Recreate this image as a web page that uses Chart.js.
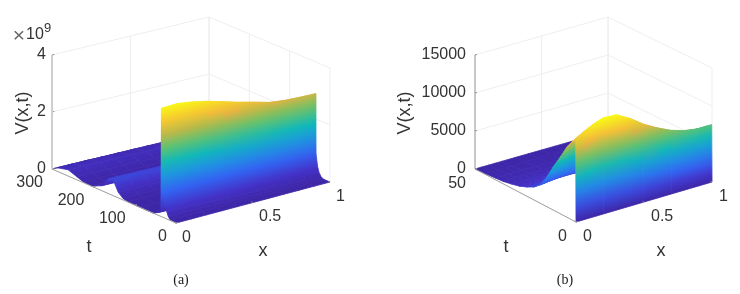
<!DOCTYPE html>
<html>
<head>
<meta charset="utf-8">
<style>
    html, body { margin: 0; padding: 0; background: #fff; }
    #surfaceChart { position: absolute; left: 0; top: 0; }
</style>
<script src="https://cdn.jsdelivr.net/npm/chart.js@4/dist/chart.umd.js"></script>
</head>
<body>
<canvas id="surfaceChart" width="740" height="294"></canvas>
<script>
// panel (a), V in units of 1e9
var aX = [0, 0.1, 0.2, 0.3, 0.4, 0.5, 0.6, 0.7, 0.8, 0.9, 1];
var aT = [0, 14.5, 19, 22.5, 27.3, 31, 34.6, 35.2, 36.5, 44, 55, 87, 116, 128, 140, 152, 164, 180, 204, 225, 240, 261, 288, 300];
var aV = [
    [0, 0, 0, 0, 0, 0, 0, 0, 0, 0, 0],
    [0.02, 0.02, 0.02, 0.02, 0.01, 0.01, 0.01, 0.01, 0.01, 0, 0],
    [0.12, 0.11, 0.10, 0.09, 0.08, 0.07, 0.06, 0.05, 0.04, 0.03, 0.02],
    [0.26, 0.24, 0.22, 0.20, 0.18, 0.16, 0.14, 0.12, 0.10, 0.08, 0.06],
    [0.53, 0.49, 0.45, 0.41, 0.38, 0.34, 0.30, 0.27, 0.24, 0.21, 0.18],
    [0.72, 0.68, 0.64, 0.60, 0.56, 0.52, 0.48, 0.45, 0.42, 0.40, 0.38],
    [0.95, 0.94, 0.92, 0.90, 0.88, 0.86, 0.85, 0.84, 0.82, 0.81, 0.80],
    [3.80, 3.82, 3.74, 3.62, 3.46, 3.30, 3.16, 3.01, 2.94, 2.91, 2.89],
    [0.16, 0.16, 0.15, 0.15, 0.14, 0.14, 0.13, 0.13, 0.12, 0.12, 0.12],
    [0.09, 0.09, 0.08, 0.08, 0.08, 0.07, 0.07, 0.07, 0.06, 0.06, 0.06],
    [0, 0, 0, 0, 0, 0, 0, 0, 0, 0, 0],
    [0, 0, 0, 0, 0, 0, 0, 0, 0, 0, 0],
    [0.01, 0.01, 0.01, 0.01, 0.01, 0.01, 0.01, 0.01, 0.01, 0.01, 0.01],
    [0.05, 0.05, 0.05, 0.05, 0.05, 0.04, 0.04, 0.04, 0.04, 0.04, 0.04],
    [0.20, 0.20, 0.19, 0.19, 0.18, 0.18, 0.17, 0.17, 0.16, 0.16, 0.16],
    [0.55, 0.55, 0.54, 0.53, 0.52, 0.50, 0.49, 0.47, 0.46, 0.45, 0.45],
    [0.51, 0.51, 0.50, 0.49, 0.48, 0.47, 0.45, 0.44, 0.43, 0.42, 0.42],
    [0.17, 0.17, 0.17, 0.16, 0.16, 0.15, 0.15, 0.14, 0.14, 0.14, 0.14],
    [0.01, 0.01, 0.01, 0.01, 0.01, 0.01, 0.01, 0.01, 0.01, 0.01, 0.01],
    [0.03, 0.03, 0.03, 0.03, 0.03, 0.03, 0.03, 0.02, 0.02, 0.02, 0.02],
    [0.11, 0.11, 0.11, 0.10, 0.10, 0.10, 0.09, 0.09, 0.09, 0.08, 0.08],
    [0.22, 0.22, 0.21, 0.21, 0.20, 0.20, 0.19, 0.18, 0.18, 0.17, 0.17],
    [0.12, 0.12, 0.12, 0.11, 0.11, 0.11, 0.10, 0.10, 0.10, 0.09, 0.09],
    [0, 0, 0, 0, 0, 0, 0, 0, 0, 0, 0]
];
var aXTicks = [0, 0.5, 1];
var aTTicks = [0, 100, 200, 300];
var aVTicks = [0, 2, 4];
var aVTickLabels = ['0', '2', '4'];

// panel (b)
var bX = [0, 0.05, 0.1, 0.15, 0.2, 0.3, 0.4, 0.5, 0.6, 0.7, 0.8, 0.9, 1];
var bT = [0, 0.15, 2, 4.5, 8, 11.4, 14.5, 17.8, 21, 24.5, 28, 32, 36, 40, 45, 50];
var bV = [
    [0, 0, 0, 0, 0, 0, 0, 0, 0, 0, 0, 0, 0],
    [10800, 11350, 11850, 12300, 12600, 12500, 11500, 10200, 9200, 8350, 7800, 7500, 7500],
    [10260, 10780, 11260, 11690, 11970, 11880, 10930, 9690, 8740, 7930, 7410, 7130, 7130],
    [9250, 9730, 10160, 10540, 10800, 10710, 9860, 8740, 7880, 7160, 6680, 6430, 6430],
    [7340, 7720, 8060, 8360, 8570, 8500, 7820, 6940, 6260, 5680, 5300, 5100, 5100],
    [5620, 5900, 6160, 6400, 6550, 6500, 5980, 5300, 4780, 4340, 4060, 3900, 3900],
    [3890, 4090, 4270, 4430, 4540, 4500, 4140, 3670, 3310, 3010, 2810, 2700, 2700],
    [2380, 2500, 2610, 2710, 2770, 2750, 2530, 2240, 2020, 1840, 1720, 1650, 1650],
    [1670, 1760, 1840, 1910, 1950, 1940, 1780, 1580, 1430, 1290, 1210, 1160, 1160],
    [1190, 1250, 1300, 1350, 1390, 1380, 1270, 1120, 1010, 920, 860, 830, 830],
    [810, 850, 890, 920, 950, 940, 860, 770, 690, 630, 590, 560, 560],
    [540, 570, 590, 610, 630, 630, 580, 510, 460, 420, 390, 380, 380],
    [320, 340, 360, 370, 380, 380, 350, 310, 280, 250, 230, 230, 230],
    [220, 230, 240, 250, 250, 250, 230, 200, 180, 170, 160, 150, 150],
    [90, 90, 100, 100, 100, 100, 90, 80, 70, 70, 60, 60, 60],
    [0, 0, 0, 0, 0, 0, 0, 0, 0, 0, 0, 0, 0]
];
var bXTicks = [0, 0.5, 1];
var bTTicks = [0, 50];
var bVTicks = [0, 5000, 10000, 15000];
var bVTickLabels = ['0', '5000', '10000', '15000'];

var AXIS_FONT = '"Liberation Sans", Arial, sans-serif';
var TEXT_COLOR = '#333333';
var GRID_COLOR = '#eeeeee';

// screen corners of the floor of each 3D box, and height of its V axis
var panelA = {
    front: [176, 223], right: [330, 182], left: [52, 169], back: [209, 131],
    xMax: 1, tMax: 300, vMax: 4, vHeight: 114, colorMax: 3.87, vTickGap: 6
};
var panelB = {
    front: [576, 222], right: [712, 182], left: [475, 169], back: [608, 131],
    xMax: 1, tMax: 50, vMax: 15000, vHeight: 114, colorMax: 12600, vTickGap: 9
};

// colour map sampled from the wall of panel (a)
var parulaStops = [
    [0, 62, 38, 168], [0.085, 68, 50, 200], [0.22, 50, 100, 242], [0.35, 32, 146, 226], [0.48, 16, 184, 186],
    [0.62, 96, 194, 112], [0.725, 176, 186, 74], [0.79, 240, 178, 64], [0.9, 248, 214, 40], [1, 249, 251, 21]
];

function parula(f) {
    f = Math.max(0, Math.min(1, f));
    for (var i = 1; i < parulaStops.length; i++) {
        var a = parulaStops[i - 1];
        var b = parulaStops[i];
        if (f <= b[0]) {
            var k = (f - a[0]) / (b[0] - a[0]);
            return 'rgb(' + Math.round(a[1] + k * (b[1] - a[1])) + ',' +
                Math.round(a[2] + k * (b[2] - a[2])) + ',' +
                Math.round(a[3] + k * (b[3] - a[3])) + ')';
        }
    }
    return 'rgb(249,251,21)';
}

function project(p, x, t, v) {
    var u = x / p.xMax;
    var w = t / p.tMax;
    var sx = (1 - u) * (1 - w) * p.front[0] + u * (1 - w) * p.right[0] + (1 - u) * w * p.left[0] + u * w * p.back[0];
    var sy = (1 - u) * (1 - w) * p.front[1] + u * (1 - w) * p.right[1] + (1 - u) * w * p.left[1] + u * w * p.back[1];
    return { x: sx, y: sy - (v / p.vMax) * p.vHeight };
}

var canvas = document.getElementById('surfaceChart');
var ctx = canvas.getContext('2d');

// interpolated shading of one surface cell, as a gradient along the V direction on screen
function cellPaint(p, c00, c10, c01, c11, v00, v10, v01, v11) {
    var vLow = Math.min(v00, v10, v01, v11);
    var vHigh = Math.max(v00, v10, v01, v11);
    var vMid = (v00 + v10 + v01 + v11) / 4;
    var e1x = (c10.x - c00.x + c11.x - c01.x) / 2;
    var e1y = (c10.y - c00.y + c11.y - c01.y) / 2;
    var e2x = (c01.x - c00.x + c11.x - c10.x) / 2;
    var e2y = (c01.y - c00.y + c11.y - c10.y) / 2;
    var d1 = (v10 - v00 + v11 - v01) / 2;
    var d2 = (v01 - v00 + v11 - v10) / 2;
    var det = e1x * e2y - e1y * e2x;
    if (vHigh - vLow < 1e-9 || Math.abs(det) < 1) {
        return parula(vMid / p.colorMax);
    }
    var gx = (d1 * e2y - d2 * e1y) / det;
    var gy = (e1x * d2 - e2x * d1) / det;
    var g2 = gx * gx + gy * gy;
    var cx = (c00.x + c10.x + c01.x + c11.x) / 4;
    var cy = (c00.y + c10.y + c01.y + c11.y) / 4;
    var grad = ctx.createLinearGradient(
        cx + gx * (vLow - vMid) / g2, cy + gy * (vLow - vMid) / g2,
        cx + gx * (vHigh - vMid) / g2, cy + gy * (vHigh - vMid) / g2
    );
    for (var s = 0; s <= 6; s++) {
        grad.addColorStop(s / 6, parula((vLow + (vHigh - vLow) * s / 6) / p.colorMax));
    }
    return grad;
}

function surfaceDatasets(p, xs, ts, vs) {
    var out = [];
    // first dataset is painted last, so the front rows go first
    for (var i = 0; i < ts.length - 1; i++) {
        for (var j = 0; j < xs.length - 1; j++) {
            var c00 = project(p, xs[j], ts[i], vs[i][j]);
            var c10 = project(p, xs[j + 1], ts[i], vs[i][j + 1]);
            var c11 = project(p, xs[j + 1], ts[i + 1], vs[i + 1][j + 1]);
            var c01 = project(p, xs[j], ts[i + 1], vs[i + 1][j]);
            var paint = cellPaint(p, c00, c10, c01, c11, vs[i][j], vs[i][j + 1], vs[i + 1][j], vs[i + 1][j + 1]);
            out.push({
                data: [c00, c10, c11, c01, c00],
                showLine: true,
                fill: 'shape',
                backgroundColor: paint,
                borderColor: paint,
                borderWidth: 0.8,
                borderJoinStyle: 'round',
                pointRadius: 0,
                tension: 0,
                clip: false
            });
        }
    }
    return out;
}

function lineDataset(points, color, width) {
    return {
        data: points,
        showLine: true,
        fill: false,
        borderColor: color,
        borderWidth: width,
        pointRadius: 0,
        tension: 0,
        clip: false
    };
}

function gridDatasets(p, xTicks, tTicks, vTicks) {
    var out = [];
    xTicks.forEach(function (x) {
        out.push(lineDataset([project(p, x, 0, 0), project(p, x, p.tMax, 0), project(p, x, p.tMax, p.vMax)], GRID_COLOR, 1));
    });
    tTicks.forEach(function (t) {
        out.push(lineDataset([project(p, 0, t, 0), project(p, p.xMax, t, 0), project(p, p.xMax, t, p.vMax)], GRID_COLOR, 1));
    });
    vTicks.forEach(function (v) {
        out.push(lineDataset([project(p, 0, p.tMax, v), project(p, p.xMax, p.tMax, v), project(p, p.xMax, 0, v)], GRID_COLOR, 1));
    });
    return out;
}

function axisDatasets(p, xTicks, tTicks, vTicks, vAxisColor, vAxisWidth) {
    var out = [];
    var tickColor = '#8c8c8c';
    out.push(lineDataset([project(p, 0, 0, 0), project(p, 0, p.tMax, 0)], '#a0a0a0', 1));
    out.push(lineDataset([project(p, 0, p.tMax, 0), project(p, 0, p.tMax, p.vMax)], vAxisColor, vAxisWidth));
    tTicks.forEach(function (t) {
        out.push(lineDataset([project(p, 0, t, 0), project(p, 0.015, t, 0)], tickColor, 1));
    });
    vTicks.forEach(function (v) {
        out.push(lineDataset([project(p, 0, p.tMax, v), project(p, 0.015, p.tMax, v)], tickColor, 1));
    });
    xTicks.forEach(function (x) {
        out.push(lineDataset([project(p, x, 0, 0), project(p, x, p.tMax * 0.015, 0)], tickColor, 1));
    });
    return out;
}

function tickTexts(p, xTicks, tTicks, vTicks, vLabels, xOff, tOff) {
    var out = [];
    vTicks.forEach(function (v, i) {
        var q = project(p, 0, p.tMax, v);
        out.push({ text: vLabels[i], x: q.x - p.vTickGap, y: q.y, align: 'right', size: 16 });
    });
    tTicks.forEach(function (t) {
        var q = project(p, 0, t, 0);
        out.push({ text: String(t), x: q.x + tOff[0], y: q.y + tOff[1], align: 'right', size: 16 });
    });
    xTicks.forEach(function (x) {
        var q = project(p, x, 0, 0);
        out.push({ text: String(x), x: q.x + xOff[0], y: q.y + xOff[1], align: 'left', size: 16 });
    });
    return out;
}

var labels = []
    .concat(tickTexts(panelA, aXTicks, aTTicks, aVTicks, aVTickLabels, [6, 14.5], [-9, 14]))
    .concat(tickTexts(panelB, bXTicks, bTTicks, bVTicks, bVTickLabels, [7, 15], [-9, 14.5]))
    .concat([
        { text: 'V(x,t)', x: 23, y: 113, align: 'center', size: 18, rotate: true },
        { text: 't', x: 89, y: 247, align: 'center', size: 18 },
        { text: 'x', x: 263, y: 251, align: 'center', size: 18 },
        { text: '\u00d7', x: 19, y: 36, align: 'center', size: 21, light: true },
        { text: '10', x: 26, y: 35, align: 'left', size: 16 },
        { text: '9', x: 44, y: 28, align: 'left', size: 13 },
        { text: '(a)', x: 181, y: 280, align: 'center', size: 14, serif: true },
        { text: 'V(x,t)', x: 405, y: 113, align: 'center', size: 18, rotate: true },
        { text: 't', x: 506, y: 247, align: 'center', size: 18 },
        { text: 'x', x: 661, y: 251, align: 'center', size: 18 },
        { text: '(b)', x: 565, y: 280, align: 'center', size: 14, serif: true }
    ]);

var textPlugin = {
    id: 'panelText',
    afterDraw: function (chart) {
        var c = chart.ctx;
        labels.forEach(function (l) {
            c.save();
            c.fillStyle = l.serif ? '#1a1a1a' : (l.light ? '#666666' : TEXT_COLOR);
            c.font = l.size + 'px ' + (l.serif ? '"Liberation Serif", serif' : AXIS_FONT);
            c.textAlign = l.align;
            c.textBaseline = 'middle';
            c.translate(l.x, l.y);
            if (l.rotate) c.rotate(-Math.PI / 2);
            c.fillText(l.text, 0, 0);
            c.restore();
        });
    }
};

// dataset 0 is on top: axes, then surfaces, then the box grid at the back
var datasets = []
    .concat(axisDatasets(panelA, aXTicks, aTTicks, aVTicks, '#cfcfcf', 2))
    .concat(axisDatasets(panelB, bXTicks, bTTicks, bVTicks, '#9a9a9a', 1))
    .concat(surfaceDatasets(panelA, aX, aT, aV))
    .concat(surfaceDatasets(panelB, bX, bT, bV))
    .concat(gridDatasets(panelA, aXTicks, aTTicks, aVTicks))
    .concat(gridDatasets(panelB, bXTicks, bTTicks, bVTicks));

new Chart(ctx, {
    type: 'scatter',
    data: { datasets: datasets },
    plugins: [textPlugin],
    options: {
        responsive: false,
        animation: false,
        events: [],
        layout: { padding: 0 },
        plugins: { legend: { display: false }, tooltip: { enabled: false } },
        scales: {
            x: { type: 'linear', min: 0, max: 740, display: false },
            y: { type: 'linear', min: 0, max: 294, reverse: true, display: false }
        }
    }
});
</script>
</body>
</html>
